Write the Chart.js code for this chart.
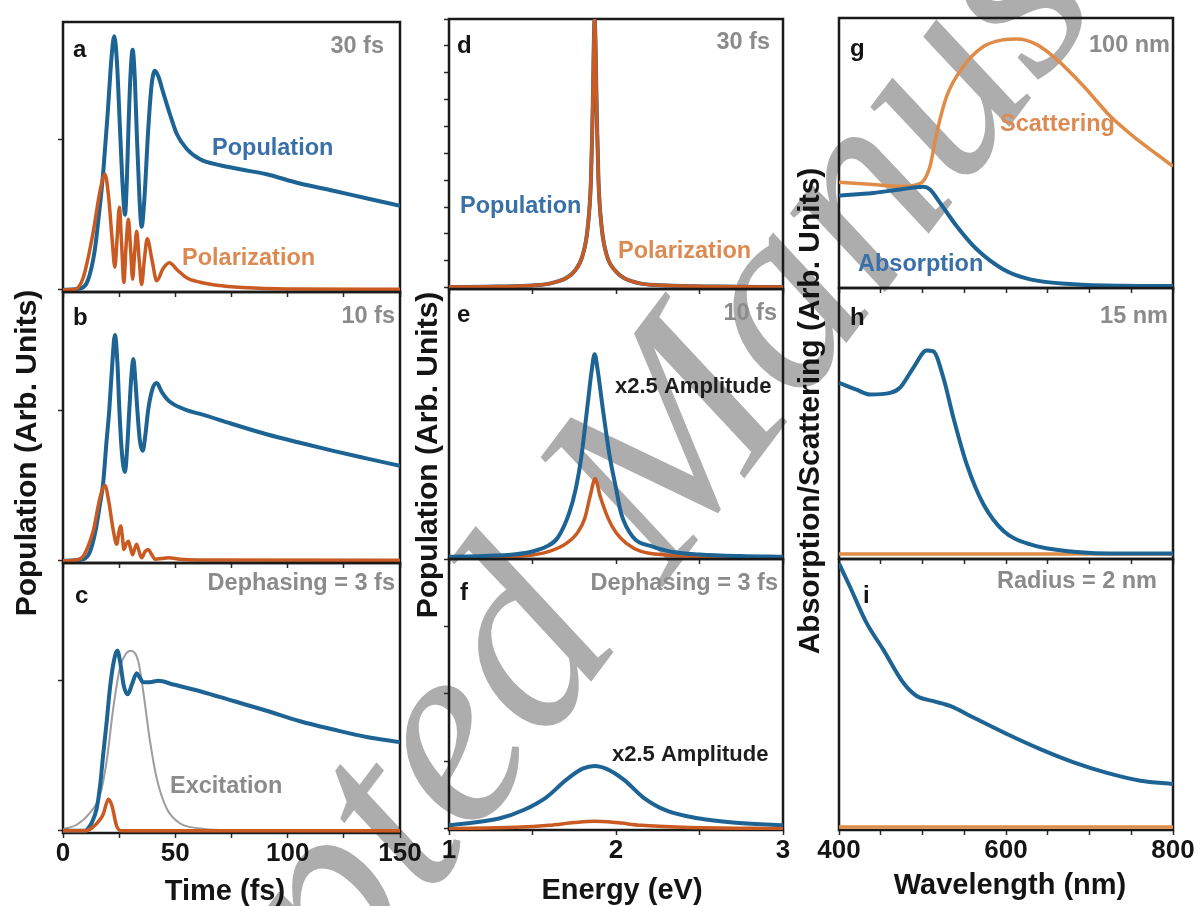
<!DOCTYPE html>
<html>
<head>
<meta charset="utf-8">
<title>Population, polarization and plasmon spectra</title>
<script src="https://cdn.jsdelivr.net/npm/chart.js@4.4.1/dist/chart.umd.min.js"></script>
<style>
  html, body { margin: 0; padding: 0; background: #ffffff; }
  #stage { position: relative; width: 1200px; height: 906px; overflow: hidden; background: #ffffff; }
  #stage canvas { position: absolute; left: 0; top: 0; }
</style>
</head>
<body>
<div id="stage"></div>
<script>
// ---------- Time-domain panels (a–c), time in fs ----------
const aPopTime = [0,8,11,14,16,18,20,21.6,22.8,24,25.4,26.6,27.6,28.4,29.1,30,31,32,32.8,34,35,36.2,37.9,39.4,40.9,42.5,44.5,47.6,50.6,55,61,70,80,90.6,105,120.3,135,150];
const aPopulation = [0,0.01,0.06,0.25,0.5,0.8,1.2,1.55,1.69,1.52,1.06,0.68,0.5,0.72,1.06,1.42,1.6,1.4,1.06,0.62,0.42,0.6,1.06,1.36,1.46,1.42,1.32,1.17,1.04,0.94,0.87,0.83,0.8,0.77,0.71,0.66,0.61,0.56];
const aPolTime = [0,5,7,9,11,13.5,16.5,18.7,20.3,21.8,23.1,24.1,25.1,26.1,27.1,28.1,29.1,30.1,31,31.9,32.8,33.9,35,36.2,37.5,39.6,41.7,44.5,47.3,51,55,61,68.4,80,100,150];
const aPolarization = [0,0,0.02,0.08,0.2,0.39,0.66,0.77,0.62,0.35,0.15,0.35,0.55,0.3,0.05,0.3,0.47,0.27,0.07,0.25,0.39,0.2,0.035,0.2,0.34,0.2,0.06,0.14,0.18,0.13,0.08,0.05,0.03,0.015,0.005,0.003];

const bPopTime = [0,9,12,14.5,16.3,17.9,19.3,20.6,21.9,23.1,24.2,25.1,26.2,27.6,28.6,29.5,30.4,31.3,32.2,33.1,34.2,35.5,36.7,37.9,39.8,41.7,44,46.5,49.1,55,61,75,90.6,105,120.3,135,150];
const bPopulation = [0,0.01,0.06,0.2,0.36,0.52,0.78,1.0,1.3,1.5,1.32,1.0,0.72,0.59,0.76,1.0,1.22,1.34,1.2,1.0,0.8,0.73,0.84,1.0,1.14,1.18,1.12,1.07,1.04,1.0,0.975,0.91,0.84,0.785,0.73,0.68,0.63];
const bPolTime = [0,6,9,11,13.5,16.5,18.7,20.3,22.4,23.9,25,25.7,26.5,27.1,28.1,29.1,30.1,31,31.9,32.8,33.9,35,36.5,37.9,39.5,41,44,47,52,60,150];
const bPolarization = [0,0.005,0.03,0.09,0.2,0.42,0.5,0.4,0.2,0.11,0.2,0.23,0.15,0.075,0.11,0.13,0.08,0.04,0.08,0.11,0.06,0.02,0.06,0.075,0.04,0.01,0.015,0.02,0.01,0.005,0.003];

const cExcTime = [0,6.1,12,16.5,19.4,22.4,25.4,28,30.3,33.5,35.7,38.7,41.7,46.1,52,61,70,150];
const cExcitation = [0.01,0.04,0.12,0.24,0.46,0.82,1.09,1.18,1.2,1.13,0.93,0.6,0.35,0.15,0.05,0.015,0.005,0];
const cPopTime = [0,10,11.4,13,15,16.5,17.9,19.4,20.9,22.5,24.2,25.5,27,28.8,30.8,32.8,34.2,35.7,38.5,42.4,49.1,61,75.8,90.6,105.5,120.3,135.1,150];
const cPopulation = [0,0,0.02,0.06,0.15,0.3,0.51,0.72,0.95,1.12,1.2,1.12,0.97,0.91,0.98,1.05,1.02,0.99,0.99,1.0,0.975,0.93,0.865,0.8,0.73,0.675,0.625,0.59];
const cPolTime = [0,10,13,16.5,17.9,20.2,21.5,22.4,23.2,23.9,25,26,150];
const cPolarization = [0,0,0.02,0.075,0.11,0.21,0.18,0.13,0.07,0.03,0.005,0,0];

// ---------- Energy-domain panels (d–f), energy in eV ----------
const dEnergy = [1.0,1.3,1.5,1.6,1.7,1.75,1.8,1.83,1.85,1.86,1.872,1.885,1.895,1.915,1.945,2.0,2.05,2.15,2.3,2.6,3.0];
const dPopulation = [0.02,0.04,0.08,0.15,0.35,0.6,1.2,2.2,4.0,6.5,10,6.5,4.0,2.2,1.2,0.6,0.35,0.15,0.08,0.04,0.02];
const dPolarization = [0.02,0.04,0.08,0.15,0.35,0.6,1.2,2.2,4.0,6.5,10,6.5,4.0,2.2,1.2,0.6,0.35,0.15,0.08,0.04,0.02];

const ePopEnergy = [1.0,1.2,1.4,1.5,1.583,1.65,1.72,1.76,1.793,1.83,1.855,1.872,1.89,1.92,1.962,2.0,2.03,2.1,2.22,2.35,2.5,2.75,3.0];
const ePopulation = [0.05,0.08,0.15,0.25,0.43,0.75,1.68,2.6,3.79,5.7,7.0,7.58,7.0,5.6,3.79,2.6,1.68,0.8,0.43,0.22,0.14,0.08,0.05];
const ePolEnergy = [1.0,1.3,1.5,1.6,1.703,1.77,1.813,1.845,1.875,1.905,1.953,2.0,2.062,2.15,2.3,2.6,3.0];
const ePolarization = [0.02,0.05,0.12,0.25,0.55,0.95,1.48,2.3,2.95,2.3,1.48,0.95,0.55,0.25,0.12,0.05,0.02];

const fPopEnergy = [1.0,1.3,1.45,1.583,1.7,1.8,1.872,1.95,2.05,2.162,2.3,2.5,2.7,3.0];
const fPopulation = [0.05,0.15,0.28,0.465,0.72,0.89,0.93,0.88,0.72,0.465,0.27,0.15,0.09,0.05];
const fPolEnergy = [1.0,1.4,1.6,1.75,1.87,2.0,2.15,2.4,3.0];
const fPolarization = [0.0,0.02,0.05,0.09,0.11,0.09,0.05,0.02,0.0];

// ---------- Spectra panels (g–i), wavelength in nm ----------
const gScaWave = [400,441,473,493,501,509,517,529,549,573,597,613,637,661,693,725,757,781,800];
const gScattering = [3.89,3.8,3.74,3.8,3.93,4.48,5.72,7.09,8.2,8.94,9.19,9.22,9.01,8.45,7.46,6.34,5.48,4.92,4.48];
const gAbsWave = [400,441,473,501,509,521,541,565,597,629,681,741,800];
const gAbsorption = [3.39,3.49,3.62,3.72,3.62,3.12,2.25,1.39,0.64,0.27,0.09,0.03,0.02];

const hAbsWave = [400,421,437,461,473,489,505,513,525,537,553,573,597,629,681,741,800];
const hAbsorption = [6.48,6.23,6.05,6.11,6.3,7.04,7.68,7.65,6.67,5.19,3.46,1.98,0.99,0.49,0.22,0.15,0.15];
const hScaWave = [400,800];
const hScattering = [0.14,0.14];

const iAbsWave = [400,413,433,453,477,493,513,533,561,601,641,681,721,761,800];
const iAbsorption = [9.84,8.98,7.63,6.64,5.41,4.92,4.73,4.55,4.12,3.51,2.95,2.46,2.07,1.78,1.66];
const iScaWave = [400,800];
const iScattering = [0.06,0.06];

// ---------- Axis ticks ----------
const timeTicks = [0,25,50,75,100,125,150];
const timeLabels = [0,50,100,150];
const energyTicks = [1,1.5,2,2.5,3];
const energyLabels = [1,2,3];
const waveTicks = [400,450,500,550,600,650,700,750,800];
const waveLabels = [400,600,800];
const popTicks = [0,1];
const dTicks = [0,1,2,3,4,5,6,7,8,9,10];
const fTicks = [0,1,2,3,4];

// ---------- Styling ----------
const W = 1200, H = 906, AXW = 8, AXL = 48;
const BLUE = '#1d6494', ORANGE = '#c95a22', ORANGE_LIGHT = '#de8c48', GREY_LINE = '#9d9d9d';
const TXT_BLUE = '#3a70a8', TXT_ORANGE = '#dc8a52', TXT_GREY = '#8b8b8b', INK = '#141414';
const FAMILY = '"Liberation Sans", Arial, Helvetica, sans-serif';
const F = (size) => `bold ${size}px ${FAMILY}`;
const stage = document.getElementById('stage');

function line(xs, ys, color, width) {
  return { xs, ys, color, width };
}

function drawNotes(ctx, notes) {
  notes.forEach(n => {
    ctx.save();
    ctx.font = n.font;
    ctx.fillStyle = n.color;
    ctx.textAlign = n.align || 'left';
    ctx.textBaseline = n.baseline || 'alphabetic';
    ctx.translate(n.x, n.y);
    if (n.rotate) ctx.rotate(n.rotate);
    ctx.fillText(n.text, 0, 0);
    ctx.restore();
  });
}

// Frame around every panel, drawn below the curves
const framePlugin = {
  id: 'frame',
  beforeDatasetsDraw(chart) {
    const a = chart.chartArea, ctx = chart.ctx;
    ctx.save();
    ctx.strokeStyle = '#1a1a1a';
    ctx.lineWidth = 2.5;
    ctx.strokeRect(a.left, a.top, a.right - a.left, a.bottom - a.top);
    ctx.restore();
  }
};

// Journal watermark behind all panels
const watermarkPlugin = {
  id: 'watermark',
  beforeDraw(chart) {
    const ctx = chart.ctx;
    ctx.save();
    ctx.fillStyle = '#adadad';
    ctx.font = 'italic 268px "Liberation Serif", "Times New Roman", serif';
    ctx.textAlign = 'center';
    ctx.textBaseline = 'middle';
    ctx.translate(664, 468);
    ctx.rotate(-53 * Math.PI / 180);
    ctx.fillText('Accepted Manuscript', 0, 0);
    ctx.restore();
  }
};

function panel(p) {
  const cv = document.createElement('canvas');
  cv.width = W; cv.height = H;
  stage.appendChild(cv);
  const [l, t, r, b] = p.box;
  const xh = p.xLabels ? AXL : AXW;
  const notesPlugin = { id: 'notes', afterDraw(chart) { drawNotes(chart.ctx, p.notes); } };
  return new Chart(cv.getContext('2d'), {
    type: 'line',
    data: {
      datasets: p.series.map(s => ({
        data: s.xs.map((x, i) => ({ x, y: s.ys[i] })),
        borderColor: s.color,
        borderWidth: s.width,
        pointRadius: 0,
        fill: false,
        cubicInterpolationMode: 'monotone'
      }))
    },
    options: {
      responsive: false,
      animation: false,
      devicePixelRatio: 1,
      events: [],
      layout: { padding: { left: l - AXW, top: t, right: W - r, bottom: H - b - xh } },
      plugins: { legend: { display: false }, tooltip: { enabled: false } },
      scales: {
        x: {
          type: 'linear', min: p.xr[0], max: p.xr[1],
          afterFit(s) { s.height = xh; },
          afterBuildTicks(s) { s.ticks = p.xTicks.map(v => ({ value: v })); },
          ticks: {
            display: !!p.xLabels, autoSkip: false, maxRotation: 0, minRotation: 0, padding: 0,
            color: INK, font: { family: FAMILY, size: 26, weight: 'bold' },
            callback: v => (p.xLabels && p.xLabels.includes(v)) ? String(v) : ''
          },
          grid: { drawOnChartArea: false, drawTicks: true, tickLength: 5, tickWidth: 1.5, tickColor: '#2a2a2a' },
          border: { display: false }
        },
        y: {
          type: 'linear', min: p.yr[0], max: p.yr[1],
          afterFit(s) { s.width = AXW; },
          afterBuildTicks(s) { s.ticks = p.yTicks.map(v => ({ value: v })); },
          ticks: { display: false },
          grid: { drawOnChartArea: false, drawTicks: p.yTicks.length > 0, tickLength: 5, tickWidth: 1.5, tickColor: '#2a2a2a' },
          border: { display: false }
        }
      }
    },
    plugins: [framePlugin, notesPlugin].concat(p.extra || [])
  });
}

const rot = -Math.PI / 2;

// ---- a ----
panel({
  box: [63, 22, 400, 292], xr: [0, 150], yr: [-0.015, 1.785],
  xTicks: timeTicks, yTicks: popTicks,
  series: [line(aPolTime, aPolarization, ORANGE, 3.5), line(aPopTime, aPopulation, BLUE, 4)],
  notes: [
    { text: 'a', x: 73, y: 57, font: F(24), color: INK },
    { text: '30 fs', x: 384, y: 53, align: 'right', font: F(23.5), color: TXT_GREY },
    { text: 'Population', x: 212, y: 155, font: F(23.5), color: TXT_BLUE },
    { text: 'Polarization', x: 182, y: 265, font: F(23.5), color: TXT_ORANGE }
  ],
  extra: [watermarkPlugin]
});
// ---- b ----
panel({
  box: [63, 292, 400, 563], xr: [0, 150], yr: [-0.015, 1.785],
  xTicks: timeTicks, yTicks: popTicks,
  series: [line(bPolTime, bPolarization, ORANGE, 3.5), line(bPopTime, bPopulation, BLUE, 4)],
  notes: [
    { text: 'b', x: 73, y: 325, font: F(24), color: INK },
    { text: '10 fs', x: 395, y: 323, align: 'right', font: F(23.5), color: TXT_GREY },
    { text: 'Population (Arb. Units)', x: 28, y: 453, rotate: rot, align: 'center', baseline: 'middle', font: F(30), color: INK }
  ]
});
// ---- c ----
panel({
  box: [63, 563, 400, 833], xr: [0, 150], yr: [-0.015, 1.785],
  xTicks: timeTicks, xLabels: timeLabels, yTicks: popTicks,
  series: [line(cPolTime, cPolarization, ORANGE, 3.5), line(cPopTime, cPopulation, BLUE, 4), line(cExcTime, cExcitation, GREY_LINE, 2)],
  notes: [
    { text: 'c', x: 75, y: 603, font: F(24), color: INK },
    { text: 'Dephasing = 3 fs', x: 395, y: 590, align: 'right', font: F(23.5), color: TXT_GREY },
    { text: 'Excitation', x: 170, y: 793, font: F(23.5), color: TXT_GREY },
    { text: 'Time (fs)', x: 225, y: 892, align: 'center', baseline: 'middle', font: F(29), color: INK }
  ]
});
// ---- d ----
panel({
  box: [449, 19, 783, 289], xr: [1, 3], yr: [-0.05, 10],
  xTicks: energyTicks, yTicks: dTicks,
  series: [line(dEnergy, dPolarization, ORANGE, 3.5), line(dEnergy, dPopulation, BLUE, 4)],
  notes: [
    { text: 'd', x: 457, y: 53, font: F(24), color: INK },
    { text: '30 fs', x: 770, y: 49, align: 'right', font: F(23.5), color: TXT_GREY },
    { text: 'Population', x: 460, y: 213, font: F(23.5), color: TXT_BLUE },
    { text: 'Polarization', x: 618, y: 258, font: F(23.5), color: TXT_ORANGE }
  ]
});
// ---- e ----
panel({
  box: [449, 289, 783, 559], xr: [1, 3], yr: [-0.03, 10],
  xTicks: energyTicks, yTicks: [],
  series: [line(ePopEnergy, ePopulation, BLUE, 4), line(ePolEnergy, ePolarization, ORANGE, 3.5)],
  notes: [
    { text: 'e', x: 457, y: 322, font: F(24), color: INK },
    { text: '10 fs', x: 777, y: 320, align: 'right', font: F(23.5), color: TXT_GREY },
    { text: 'x2.5 Amplitude', x: 615, y: 393, font: F(22), color: '#1e1e1e' },
    { text: 'Population (Arb. Units)', x: 429, y: 455, rotate: rot, align: 'center', baseline: 'middle', font: F(30), color: INK }
  ]
});
// ---- f ----
panel({
  box: [449, 559, 783, 830], xr: [1, 3], yr: [-0.02, 4],
  xTicks: energyTicks, xLabels: energyLabels, yTicks: fTicks,
  series: [line(fPolEnergy, fPolarization, ORANGE, 3.5), line(fPopEnergy, fPopulation, BLUE, 4)],
  notes: [
    { text: 'f', x: 460, y: 600, font: F(24), color: INK },
    { text: 'Dephasing = 3 fs', x: 778, y: 590, align: 'right', font: F(23.5), color: TXT_GREY },
    { text: 'x2.5 Amplitude', x: 612, y: 761, font: F(22), color: '#1e1e1e' },
    { text: 'Energy (eV)', x: 622, y: 891, align: 'center', baseline: 'middle', font: F(29), color: INK }
  ]
});
// ---- g ----
panel({
  box: [839, 18, 1173, 288], xr: [400, 800], yr: [-0.05, 10],
  xTicks: waveTicks, yTicks: [],
  series: [line(gAbsWave, gAbsorption, BLUE, 4), line(gScaWave, gScattering, ORANGE_LIGHT, 3.5)],
  notes: [
    { text: 'g', x: 850, y: 56, font: F(24), color: INK },
    { text: '100 nm', x: 1170, y: 52, align: 'right', font: F(23.5), color: TXT_GREY },
    { text: 'Scattering', x: 1000, y: 131, font: F(23.5), color: TXT_ORANGE },
    { text: 'Absorption', x: 858, y: 271, font: F(23.5), color: TXT_BLUE }
  ]
});
// ---- h ----
panel({
  box: [839, 288, 1173, 559], xr: [400, 800], yr: [-0.05, 10],
  xTicks: waveTicks, yTicks: [],
  series: [line(hAbsWave, hAbsorption, BLUE, 4), line(hScaWave, hScattering, ORANGE_LIGHT, 3.5)],
  notes: [
    { text: 'h', x: 850, y: 325, font: F(24), color: INK },
    { text: '15 nm', x: 1168, y: 323, align: 'right', font: F(23.5), color: TXT_GREY },
    { text: 'Absorption/Scattering (Arb. Units)', x: 811, y: 411, rotate: rot, align: 'center', baseline: 'middle', font: F(30), color: INK }
  ]
});
// ---- i ----
panel({
  box: [839, 559, 1173, 830], xr: [400, 800], yr: [-0.05, 10],
  xTicks: waveTicks, xLabels: waveLabels, yTicks: [],
  series: [line(iAbsWave, iAbsorption, BLUE, 4), line(iScaWave, iScattering, ORANGE_LIGHT, 3.5)],
  notes: [
    { text: 'i', x: 863, y: 603, font: F(24), color: INK },
    { text: 'Radius = 2 nm', x: 1157, y: 588, align: 'right', font: F(23.5), color: TXT_GREY },
    { text: 'Wavelength (nm)', x: 1010, y: 886, align: 'center', baseline: 'middle', font: F(29), color: INK }
  ]
});
</script>
</body>
</html>
